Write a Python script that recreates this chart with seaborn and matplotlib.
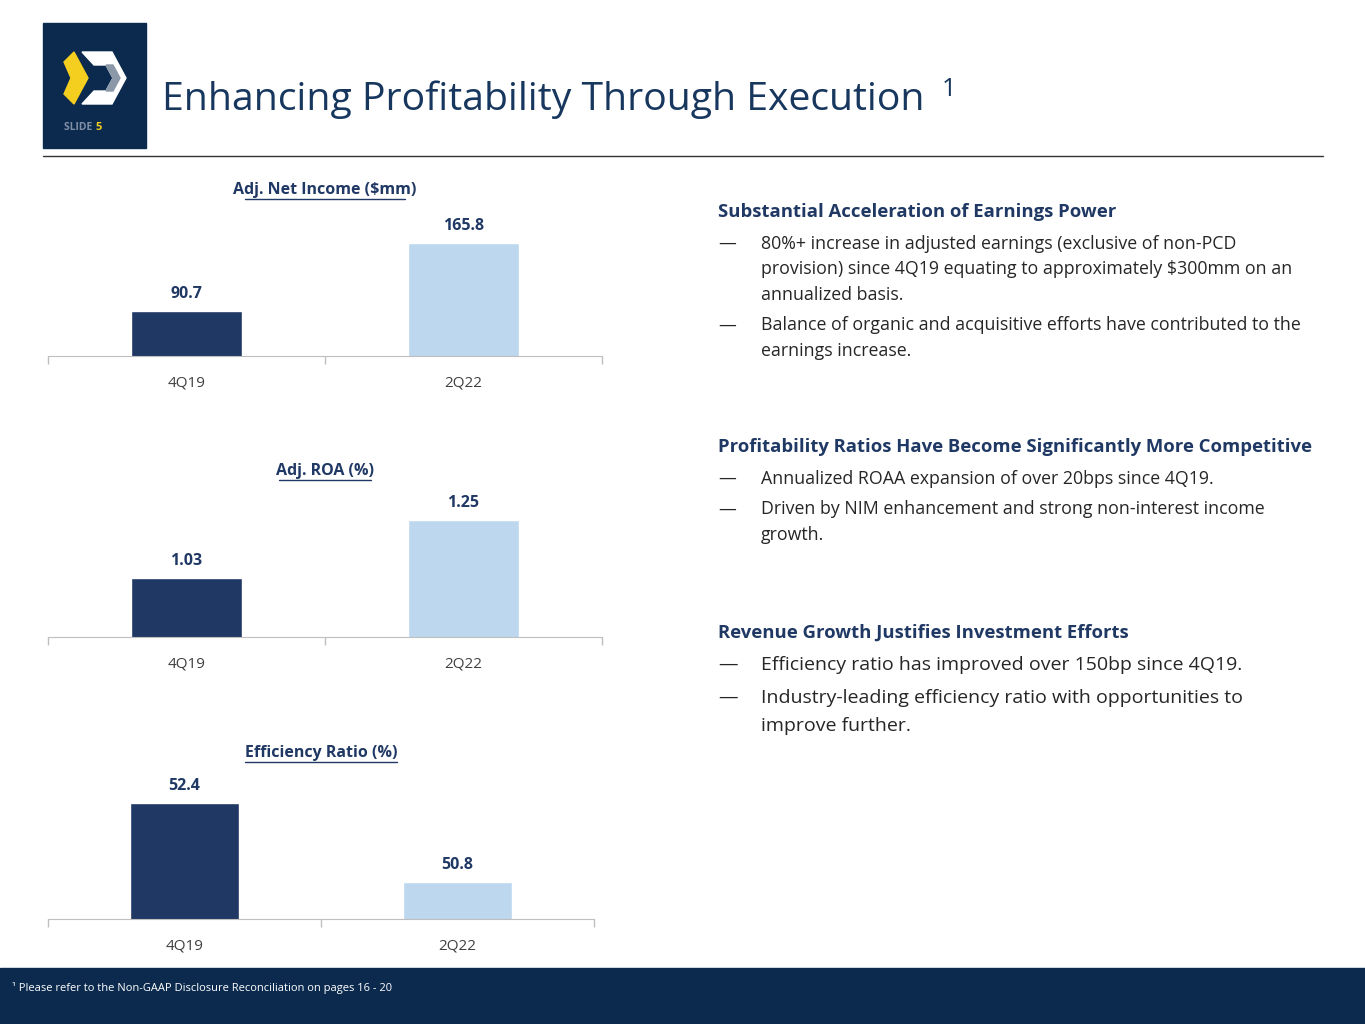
import matplotlib
matplotlib.use("Agg")
import matplotlib.pyplot as plt
import seaborn as sns
import pandas as pd
from matplotlib.patches import Rectangle, Polygon

periods = ["4Q19", "2Q22"]
net_income = [90.7, 165.8]
roa = [1.03, 1.25]
efficiency = [52.4, 50.8]

sns.set_style("white")
plt.rcParams["font.family"] = ["Open Sans", "DejaVu Sans"]

W, H = 1365, 1024
fig = plt.figure(figsize=(13.65, 10.24), dpi=100)
DARK = "#203864"
LIGHT = "#BDD7EE"
TXT = "#1F3864"

def fx(x): return x / W
def fy(y): return 1 - y / H

# header
fig.patches.append(Rectangle((fx(43), fy(148)), fx(103), 125 / H, transform=fig.transFigure, color="#0B2A4E"))
fig.patches.append(Polygon([(fx(64), fy(62)), (fx(74), fy(52)), (fx(88), fy(78)), (fx(74), fy(104)), (fx(64), fy(94)), (fx(71), fy(78))],
                           closed=True, transform=fig.transFigure, color="#F5CF1F"))
fig.patches.append(Polygon([(fx(82), fy(52)), (fx(112), fy(52)), (fx(126), fy(78)), (fx(112), fy(104)), (fx(82), fy(104)), (fx(94), fy(91)),
                            (fx(106), fy(91)), (fx(113), fy(78)), (fx(106), fy(65)), (fx(94), fy(65))],
                           closed=True, transform=fig.transFigure, color="white"))
fig.patches.append(Polygon([(fx(106), fy(65)), (fx(113), fy(65)), (fx(120), fy(78)), (fx(113), fy(91)), (fx(106), fy(91)), (fx(113), fy(78))],
                           closed=True, transform=fig.transFigure, color="#8A98A8"))
fig.text(fx(95), fy(127), "SLIDE ", color="#7F8FA6", fontsize=7.5, fontweight="bold", ha="right", va="center")
fig.text(fx(95), fy(127), "5", color="#F5CF1F", fontsize=8, fontweight="bold", ha="left", va="center")
fig.text(fx(162), fy(100), "Enhancing Profitability Through Execution", color="#17375E", fontsize=28.2, va="center")
fig.text(fx(942), fy(90), "1", color="#17375E", fontsize=18, va="center")
fig.add_artist(plt.Line2D([fx(43), fx(1323)], [fy(156), fy(156)], transform=fig.transFigure, color="#333333", lw=1))

# footer
fig.patches.append(Rectangle((0, 0), 1, 56 / H, transform=fig.transFigure, color="#0B2A4E"))
fig.text(fx(12), fy(988), "¹ Please refer to the Non-GAAP Disclosure Reconciliation on pages 16 - 20", color="white", fontsize=8, va="center")

charts = [
    ("Adj. Net Income ($mm)", net_income, 48, 602, 205, 356, 41, 208.0, "{:.1f}", 190),
    ("Adj. ROA (%)", roa, 48, 602, 485, 637, 0.806, 1.383, "{:.2f}", 471),
    ("Efficiency Ratio (%)", efficiency, 48, 594, 768, 919, 50.05, 53.11, "{:.1f}", 753),
]
for title, vals, x0, x1, ytop, ybot, lo, hi, fmt, ty in charts:
    ax = fig.add_axes([fx(x0), fy(ybot), (x1 - x0) / W, (ybot - ytop) / H])
    df = pd.DataFrame({"period": periods, "value": vals})
    sns.barplot(data=df, x="period", y="value", hue="period", palette=[DARK, LIGHT], width=0.4,
                saturation=1, ax=ax, legend=False)
    ax.set_ylim(lo, hi)
    ax.set_xlim(-0.5, 1.5)
    for i, v in enumerate(vals):
        ax.text(i, v + (hi - lo) * 0.06, fmt.format(v), ha="center", va="bottom", color=TXT, fontsize=11.5, fontweight="bold")
    for s in ["top", "left", "right"]:
        ax.spines[s].set_visible(False)
    ax.spines["bottom"].set_color("#BFBFBF")
    ax.set_yticks([])
    ax.set_xlabel("")
    ax.set_ylabel("")
    ax.set_xticks([-0.5, 0.5, 1.5], minor=True)
    ax.tick_params(axis="x", which="minor", bottom=True, length=6, width=1, color="#BFBFBF", direction="out")
    ax.tick_params(axis="x", which="major", length=0, pad=14, labelsize=11, labelcolor="#404040")
    ax.patch.set_alpha(0)
    fig.text(fx((x0 + x1) / 2), fy(ty), title, ha="center", va="center", color=TXT, fontsize=11.5, fontweight="bold")
    tw = len(title) * 7.6
    cx = (x0 + x1) / 2
    fig.add_artist(plt.Line2D([fx(cx - tw / 2), fx(cx + tw / 2)], [fy(ty + 9), fy(ty + 9)], transform=fig.transFigure, color=TXT, lw=1))

# bullets
sections = [
    (212, "Substantial Acceleration of Earnings Power", 12.8,
     [["80%+ increase in adjusted earnings (exclusive of non-PCD", "provision) since 4Q19 equating to approximately $300mm on an", "annualized basis."],
      ["Balance of organic and acquisitive efforts have contributed to the", "earnings increase."]]),
    (447, "Profitability Ratios Have Become Significantly More Competitive", 12.8,
     [["Annualized ROAA expansion of over 20bps since 4Q19."],
      ["Driven by NIM enhancement and strong non-interest income", "growth."]]),
    (633, "Revenue Growth Justifies Investment Efforts", 14,
     [["Efficiency ratio has improved over 150bp since 4Q19."],
      ["Industry-leading efficiency ratio with opportunities to", "improve further."]]),
]
for y, head, fs, bullets in sections:
    fig.text(fx(718), fy(y), head, color=TXT, fontsize=13.3, fontweight="bold", va="center")
    yy = y + 32
    lh = 25.5 if fs < 13 else 28
    for b in bullets:
        fig.text(fx(718), fy(yy), "—", color="#262626", fontsize=fs, va="center")
        for line in b:
            fig.text(fx(761), fy(yy), line, color="#262626", fontsize=fs, va="center")
            yy += lh
        yy += 5

fig.savefig("out.png", dpi=100)
